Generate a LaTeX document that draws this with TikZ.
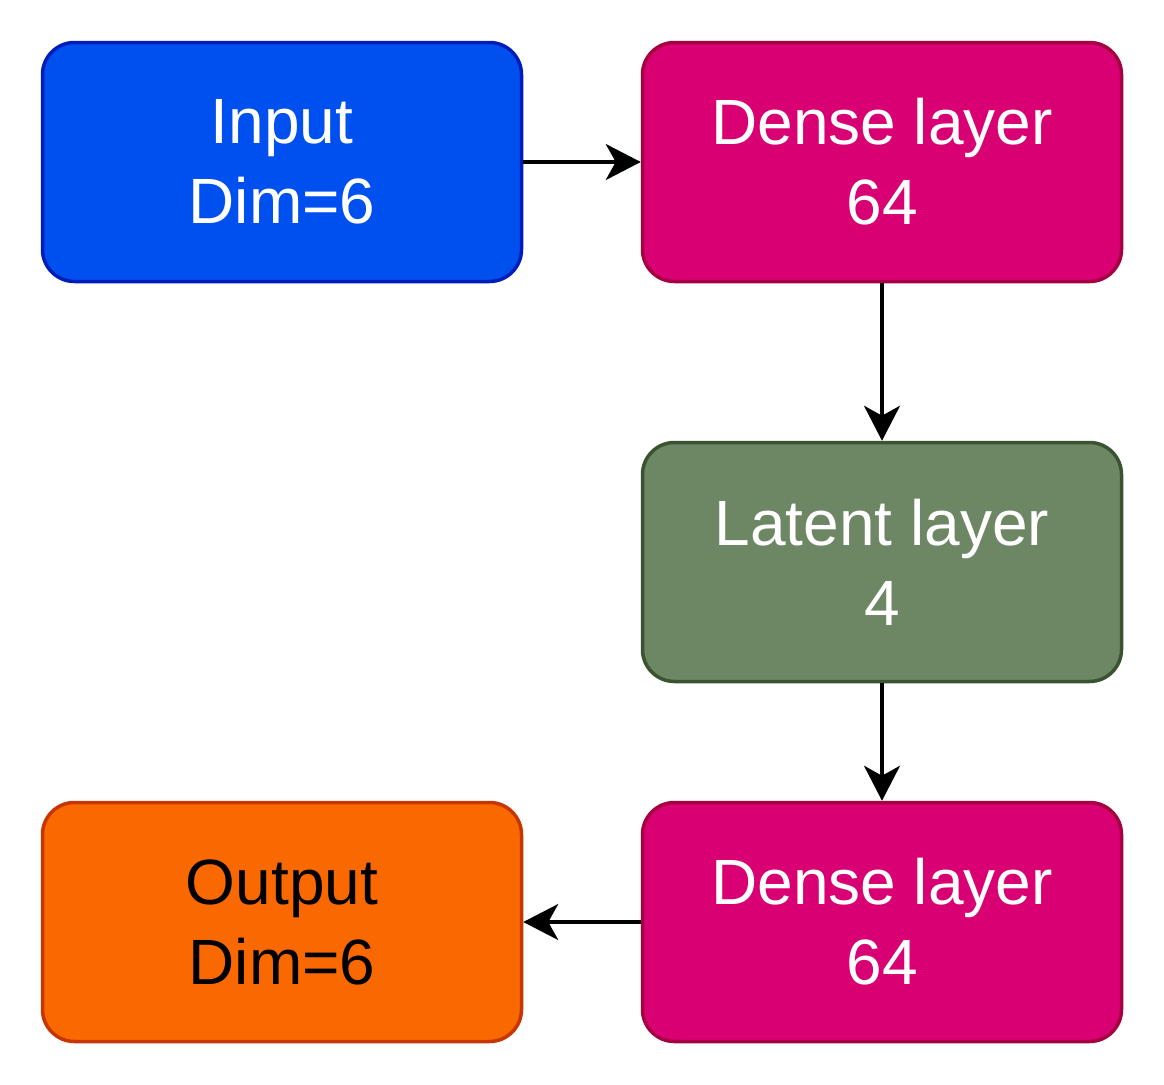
\documentclass[tikz,border=0pt]{standalone}
\usepackage{fontspec}
\setmainfont{Liberation Sans}
\usetikzlibrary{arrows.meta}
\definecolor{inFill}{HTML}{0050EF}
\definecolor{inLine}{HTML}{001DBC}
\definecolor{dnFill}{HTML}{D80073}
\definecolor{dnLine}{HTML}{A50040}
\definecolor{ltFill}{HTML}{6D8764}
\definecolor{ltLine}{HTML}{3A5431}
\definecolor{outFill}{HTML}{FA6800}
\definecolor{outLine}{HTML}{C73500}
\tikzset{
  layerbox/.style={draw, line width=3.5pt, rounded corners=32pt, minimum width=479pt, minimum height=239pt,
    inner sep=0pt, align=center, font=\fontsize{64}{80}\selectfont, text=white},
  conn/.style={line width=3.5pt, -{Stealth[length=35pt,width=36pt,inset=10pt]}}
}
\begin{document}
\begin{tikzpicture}[x=1pt,y=-1pt]
\useasboundingbox (0,0) rectangle (1164,1084);
\node[layerbox, fill=inFill, draw=inLine] (in) at (282,162) {Input\\Dim=6};
\node[layerbox, fill=dnFill, draw=dnLine] (d1) at (882,162) {Dense layer\\64};
\node[layerbox, fill=ltFill, draw=ltLine] (lat) at (882,562) {Latent layer\\4};
\node[layerbox, fill=dnFill, draw=dnLine] (d2) at (882,922) {Dense layer\\64};
\node[layerbox, fill=outFill, draw=outLine, text=black] (out) at (282,922) {Output\\Dim=6};
\draw[conn] (in.east) -- (d1.west);
\draw[conn] (d1.south) -- (lat.north);
\draw[conn] (lat.south) -- (d2.north);
\draw[conn] (d2.west) -- (out.east);
\end{tikzpicture}
\end{document}
